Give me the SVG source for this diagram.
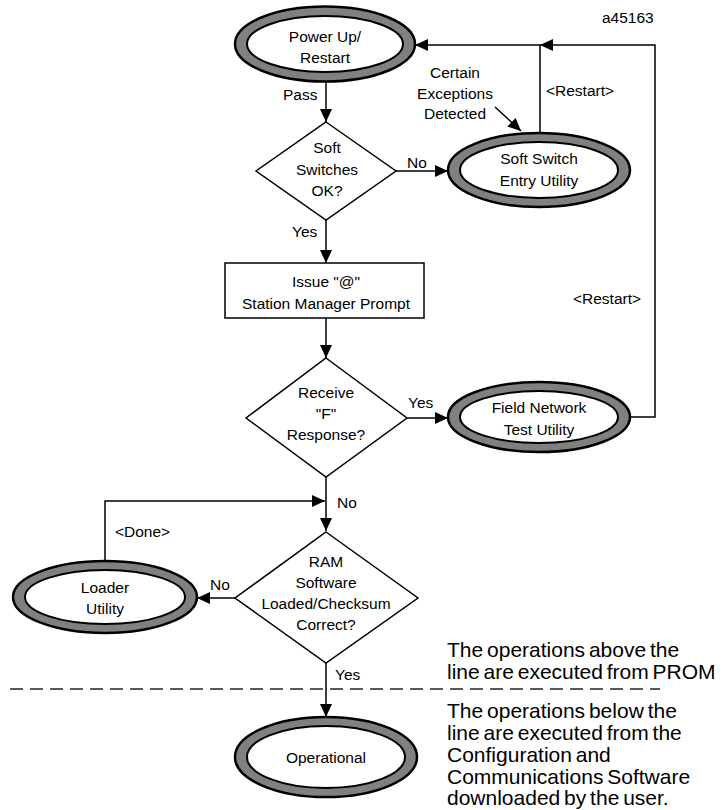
<svg xmlns="http://www.w3.org/2000/svg" width="724" height="810" viewBox="0 0 724 810">
<style>
text{font-family:"Liberation Sans",Arial,sans-serif;font-size:15.5px;fill:#000}
.c{text-anchor:middle}
.note{font-size:21px;word-spacing:-2px}
.ring{fill:#808080;stroke:#000;stroke-width:2.5}
.in{fill:#fff;stroke:#000;stroke-width:2}
.shape{fill:#fff;stroke:#000;stroke-width:1.5}
.ln{fill:none;stroke:#000;stroke-width:1.5}
</style>
<defs>
<marker id="ah" markerUnits="userSpaceOnUse" markerWidth="14" markerHeight="12" refX="13" refY="6" orient="auto">
<path d="M0,0 L13,6 L0,12 Z" fill="#000"/>
</marker>
</defs>
<rect width="724" height="810" fill="#fff"/>
<text x="602" y="23">a45163</text>

<g id="connectors">
<path class="ln" d="M326,82 L326,122" marker-end="url(#ah)"/>
<path class="ln" d="M396,171 L448,171" marker-end="url(#ah)"/>
<path class="ln" d="M326,220 L326,263" marker-end="url(#ah)"/>
<path class="ln" d="M326,318 L326,358" marker-end="url(#ah)"/>
<path class="ln" d="M407,418 L448,418" marker-end="url(#ah)"/>
<path class="ln" d="M326,477 L326,531" marker-end="url(#ah)"/>
<path class="ln" d="M105,561 L105,501 L325,501" marker-end="url(#ah)"/>
<path class="ln" d="M235,598 L197,598" marker-end="url(#ah)"/>
<path class="ln" d="M326,663 L326,717" marker-end="url(#ah)"/>
<path class="ln" d="M540,133 L540,45 L415,45" marker-end="url(#ah)"/>
<path class="ln" d="M630,417 L655,417 L655,45 L540,45" marker-end="url(#ah)"/>
<path class="ln" d="M495,107 L521,131" marker-end="url(#ah)"/>
<path d="M10,689 L660,689" fill="none" stroke="#222" stroke-width="1.5" stroke-dasharray="13 7"/>
</g>

<g id="powerup">
<ellipse class="ring" cx="325" cy="44" rx="90" ry="37.5"/>
<ellipse class="in" cx="325" cy="44" rx="78" ry="28"/>
<text class="c" x="325" y="42">Power Up/</text>
<text class="c" x="325" y="63">Restart</text>
</g>
<text x="283" y="100">Pass</text>

<g id="softswitches">
<path class="shape" d="M326,122 L396,171 L326,220 L256,171 Z"/>
<text class="c" x="327" y="153">Soft</text>
<text class="c" x="327" y="175">Switches</text>
<text class="c" x="327" y="196">OK?</text>
</g>
<text x="407" y="168">No</text>

<g id="softswitchentry">
<ellipse class="ring" cx="539" cy="170" rx="91" ry="37"/>
<ellipse class="in" cx="539" cy="170" rx="79" ry="28"/>
<text class="c" x="539" y="164">Soft Switch</text>
<text class="c" x="539" y="186">Entry Utility</text>
</g>

<text class="c" x="455" y="78">Certain</text>
<text class="c" x="455" y="99">Exceptions</text>
<text class="c" x="455" y="119">Detected</text>
<text x="546" y="96">&lt;Restart&gt;</text>
<text x="573" y="304">&lt;Restart&gt;</text>

<text x="292" y="237">Yes</text>

<g id="issue">
<rect class="shape" x="225" y="263" width="199" height="55"/>
<text class="c" x="326" y="287">Issue "@"</text>
<text class="c" x="326" y="309">Station Manager Prompt</text>
</g>

<g id="receive">
<path class="shape" d="M326,358 L407,418 L326,477 L246,418 Z"/>
<text class="c" x="326" y="398">Receive</text>
<text class="c" x="326" y="419">"F"</text>
<text class="c" x="326" y="440">Response?</text>
</g>
<text x="408" y="408">Yes</text>

<g id="fieldnetwork">
<ellipse class="ring" cx="539" cy="417" rx="91" ry="35"/>
<ellipse class="in" cx="539" cy="417" rx="79" ry="26"/>
<text class="c" x="539" y="413">Field Network</text>
<text class="c" x="539" y="435">Test Utility</text>
</g>

<text x="337" y="508">No</text>
<text x="115" y="537">&lt;Done&gt;</text>

<g id="ram">
<path class="shape" d="M326,532 L418,598 L326,663 L235,598 Z"/>
<text class="c" x="326" y="567">RAM</text>
<text class="c" x="326" y="588">Software</text>
<text class="c" x="326" y="609">Loaded/Checksum</text>
<text class="c" x="326" y="630">Correct?</text>
</g>
<text x="210" y="590">No</text>

<g id="loader">
<ellipse class="ring" cx="105" cy="597" rx="92" ry="36"/>
<ellipse class="in" cx="105" cy="597" rx="80" ry="27"/>
<text class="c" x="105" y="593">Loader</text>
<text class="c" x="105" y="614">Utility</text>
</g>

<text x="335" y="680">Yes</text>

<g id="operational">
<ellipse class="ring" cx="326" cy="757" rx="91" ry="40"/>
<ellipse class="in" cx="326" cy="757" rx="79" ry="31"/>
<text class="c" x="326" y="763">Operational</text>
</g>

<g id="notes">
<text class="note" x="447" y="657">The operations above the</text>
<text class="note" x="447" y="679">line are executed from PROM</text>
<text class="note" x="447" y="718">The operations below  the</text>
<text class="note" x="447" y="740">line are executed from the</text>
<text class="note" x="447" y="762">Configuration and</text>
<text class="note" x="447" y="784">Communications Software</text>
<text class="note" x="447" y="805">downloaded by the user.</text>
</g>
</svg>
